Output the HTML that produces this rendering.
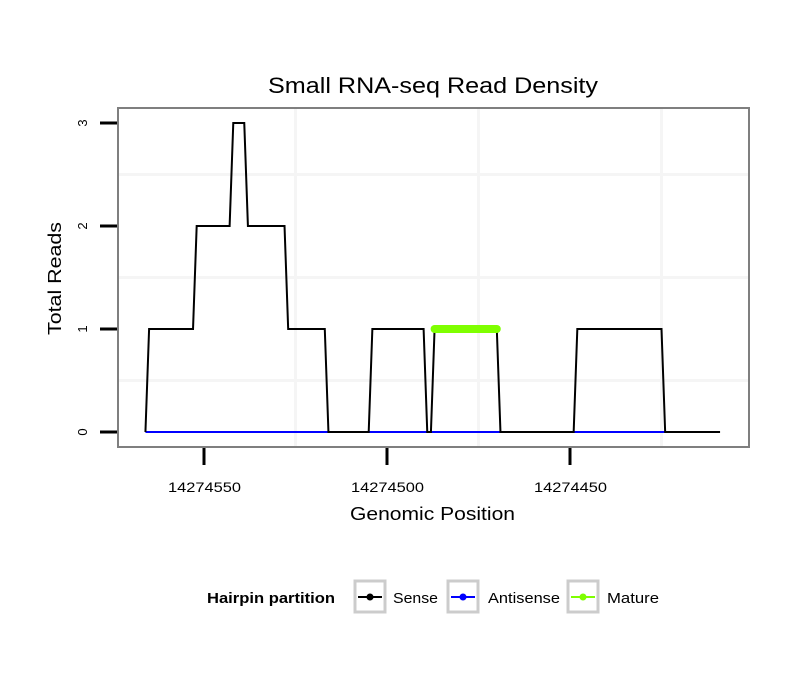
<!DOCTYPE html>
<html><head><meta charset="utf-8"><style>
body{margin:0;background:#fff;}
svg text{font-family:"Liberation Sans",sans-serif;}
</style></head><body>
<svg id="chart" width="810" height="690">
<text x="268" y="93" font-size="22" textLength="330" lengthAdjust="spacingAndGlyphs">Small RNA-seq Read Density</text>
<g id="grid"></g>
<g id="series"></g>
<rect x="118" y="108" width="631" height="339" fill="none" stroke="#7f7f7f" stroke-width="2"/>
<g id="axes"></g>
<text transform="translate(61,335) rotate(-90)" font-size="18" textLength="113" lengthAdjust="spacingAndGlyphs">Total Reads</text>
<text x="350" y="520" font-size="18" textLength="165" lengthAdjust="spacingAndGlyphs">Genomic Position</text>
<g>
<text x="207" y="603" font-size="15" font-weight="bold" textLength="128" lengthAdjust="spacingAndGlyphs">Hairpin partition</text>
<g>
<rect x="355" y="581" width="30" height="31" fill="#fff" stroke="#cccccc" stroke-width="3"/>
<line x1="358" y1="597" x2="382" y2="597" stroke="#000" stroke-width="2"/><circle cx="370" cy="597" r="3.5" fill="#000"/>
<text x="393" y="603" font-size="15" textLength="45" lengthAdjust="spacingAndGlyphs">Sense</text></g>
<g>
<rect x="448" y="581" width="30" height="31" fill="#fff" stroke="#cccccc" stroke-width="3"/>
<line x1="451" y1="597" x2="475" y2="597" stroke="#0000ff" stroke-width="2"/><circle cx="463" cy="597" r="3.5" fill="#0000ff"/>
<text x="488" y="603" font-size="15" textLength="72" lengthAdjust="spacingAndGlyphs">Antisense</text></g>
<g>
<rect x="568" y="581" width="30" height="31" fill="#fff" stroke="#cccccc" stroke-width="3"/>
<line x1="571" y1="597" x2="595" y2="597" stroke="#7fff00" stroke-width="2"/><circle cx="583" cy="597" r="3.5" fill="#7fff00"/>
<text x="607" y="603" font-size="15" textLength="52" lengthAdjust="spacingAndGlyphs">Mature</text></g>
</g>
</svg>
<script>
const senseX=[14274566,14274565,14274553,14274552,14274543,14274542,14274539,14274538,14274528,14274527,14274517,14274516,14274505,14274504,14274490,14274489,14274488,14274487,14274470,14274469,14274449,14274448,14274425,14274424,14274409];
const senseY=[0,1,1,2,2,3,3,2,2,1,1,0,0,1,1,0,0,1,1,0,0,1,1,0,0];
const antisenseX=[14274566,14274424];
const antisenseY=[0,0];
const matureX=[14274487,14274470];
const matureY=[1,1];
const xTicks=[14274550,14274500,14274450];
const yTicks=[0,1,2,3];
const xGrid=[14274525,14274475,14274425];
const yGrid=[0.5,1.5,2.5];

const NS='http://www.w3.org/2000/svg';
function X(p){return 204+(14274550-p)*3.66;}
function Y(v){return 432-v*103;}
function mk(tag,attrs,parent){const e=document.createElementNS(NS,tag);for(const k in attrs)e.setAttribute(k,attrs[k]);parent.appendChild(e);return e;}
const grid=document.getElementById('grid'),series=document.getElementById('series'),axes=document.getElementById('axes');
mk('rect',{x:118,y:108,width:631,height:339,fill:'#fff'},grid);
yGrid.forEach(v=>{const l=mk('line',{x1:118,x2:749,y1:Y(v),y2:Y(v),stroke:'#f5f5f5','stroke-width':3},grid);

});
xGrid.forEach(p=>{const l=mk('line',{x1:X(p),x2:X(p),y1:108,y2:447,stroke:'#f5f5f5','stroke-width':3},grid);

});
function pts(xs,ys){return xs.map((x,i)=>X(x)+','+Y(ys[i])).join(' ');}
const a=mk('polyline',{points:pts(antisenseX,antisenseY),fill:'none',stroke:'#0000ff','stroke-width':2},series);


const s=mk('polyline',{points:pts(senseX,senseY),fill:'none',stroke:'#000','stroke-width':2},series);


const m=mk('polyline',{points:pts(matureX,matureY),fill:'none',stroke:'#7fff00','stroke-width':8,'stroke-linecap':'round'},series);


yTicks.forEach(v=>{const t=mk('line',{x1:100,x2:117,y1:Y(v),y2:Y(v),stroke:'#000','stroke-width':3},axes);


const tx=mk('text',{transform:`translate(87,${Y(v)}) rotate(-90)`,'font-size':13,'text-anchor':'middle'},axes);tx.textContent=v;

});
xTicks.forEach(p=>{const t=mk('line',{x1:X(p),x2:X(p),y1:448,y2:465,stroke:'#000','stroke-width':3},axes);


const tx=mk('text',{x:X(p)-36,y:492,'font-size':14,textLength:73,lengthAdjust:'spacingAndGlyphs'},axes);tx.textContent=p;

});
</script>
</body></html>
